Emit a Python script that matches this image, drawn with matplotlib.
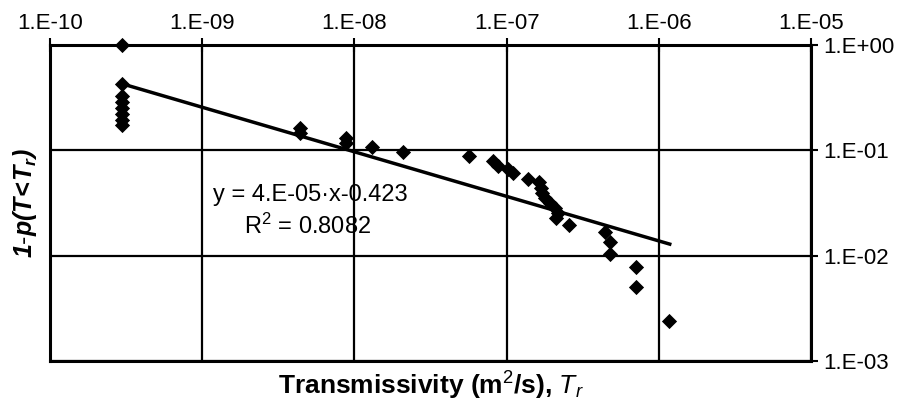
import numpy as np
import matplotlib
matplotlib.use("Agg")
import matplotlib.pyplot as plt
from matplotlib.ticker import FixedLocator, FuncFormatter, NullLocator

plt.rcParams['font.family'] = ['Liberation Sans', 'DejaVu Sans']
plt.rcParams['mathtext.fontset'] = 'custom'
plt.rcParams['mathtext.rm'] = 'Liberation Sans'
plt.rcParams['mathtext.it'] = 'Liberation Sans:italic'
plt.rcParams['mathtext.bf'] = 'Liberation Sans:bold'
plt.rcParams['mathtext.bfit'] = 'Liberation Sans:bold:italic'

# Data: transmissivity (m2/s) and exceedance probability 1-p(T<Tr)
transmissivity = [2.96e-10, 2.96e-10, 2.96e-10, 2.96e-10, 2.96e-10, 2.96e-10, 2.96e-10, 2.96e-10,
                  4.40e-9, 4.40e-9, 8.81e-9, 8.81e-9, 1.31e-8, 2.10e-8, 5.65e-8,
                  8.13e-8, 8.77e-8, 1.02e-7, 1.10e-7, 1.38e-7, 1.63e-7, 1.69e-7, 1.72e-7,
                  1.78e-7, 1.92e-7, 2.07e-7, 2.18e-7, 2.12e-7, 2.57e-7,
                  4.42e-7, 4.76e-7, 4.80e-7, 7.13e-7, 7.13e-7, 1.17e-6]
exceedance = [1.0, 0.425, 0.327, 0.286, 0.251, 0.220, 0.193, 0.173,
              0.162, 0.147, 0.130, 0.118, 0.1075, 0.0964, 0.0882,
              0.0791, 0.0709, 0.0659, 0.0604, 0.0537, 0.0499, 0.0440, 0.0395,
              0.0355, 0.0318, 0.0285, 0.0255, 0.0229, 0.0197,
              0.0167, 0.0134, 0.0104, 0.00774, 0.00503, 0.00242]

# Power-law fit y = a * x^b
fit_a = 4e-05
fit_b = -0.423
fit_r2 = 0.8082
fit_xrange = [2.96e-10, 1.18e-6]

x_ticks = [1e-10, 1e-9, 1e-8, 1e-7, 1e-6, 1e-5]
y_ticks = [1e-3, 1e-2, 1e-1, 1e0]

fig = plt.figure(figsize=(9.04, 4.05), dpi=100)
W, H = 904, 405
ax = fig.add_axes([50 / W, 1 - 361 / H, (811 - 50) / W, (361 - 45) / H])
ax.set_xscale('log')
ax.set_yscale('log')
ax.set_xlim(1e-10, 1e-5)
ax.set_ylim(1e-3, 1e0)

def fmt(v, pos):
    e = int(round(np.log10(v)))
    return f"1.E{e:+03d}"

ax.xaxis.set_major_locator(FixedLocator(x_ticks))
ax.yaxis.set_major_locator(FixedLocator(y_ticks))
ax.xaxis.set_minor_locator(NullLocator())
ax.yaxis.set_minor_locator(NullLocator())
ax.xaxis.set_major_formatter(FuncFormatter(fmt))
ax.yaxis.set_major_formatter(FuncFormatter(fmt))

ax.xaxis.tick_top()
ax.yaxis.tick_right()
ax.tick_params(axis='x', which='major', direction='inout', length=10, width=1.5,
               labelsize=16, pad=3, top=True, bottom=False)
ax.tick_params(axis='y', which='major', direction='out', length=5, width=1.5,
               labelsize=16, pad=4, right=True, left=False)

ax.grid(True, which='major', color='black', linewidth=1.6)
for s in ax.spines.values():
    s.set_linewidth(2.2)
    s.set_color('black')

ax.scatter(transmissivity, exceedance, marker='D', s=60, color='black',
           edgecolors='black', linewidths=0, zorder=3, clip_on=False)

xf = np.logspace(np.log10(fit_xrange[0]), np.log10(fit_xrange[1]), 50)
ax.plot(xf, fit_a * xf ** fit_b, color='black', linewidth=2.5, zorder=4)

fig.text(310 / W, 1 - 195 / H, f"y = 4.E-05\u00b7x{fit_b}", ha='center', va='center', fontsize=17)
fig.text(308 / W, 1 - 226 / H, r"R$^{2}$" + f" = {fit_r2}", ha='center', va='center', fontsize=17)

ax.xaxis.set_label_position('bottom')
ax.set_xlabel(r"Transmissivity (m$^{2}$/s), $\boldsymbol{T_r}$", fontsize=19, fontweight='bold', labelpad=6)
ax.set_ylabel(r"$\mathbfit{1\text{-}p(T\!<\!T_r)}$", fontsize=18, labelpad=8)

fig.savefig("out.png", dpi=100)
